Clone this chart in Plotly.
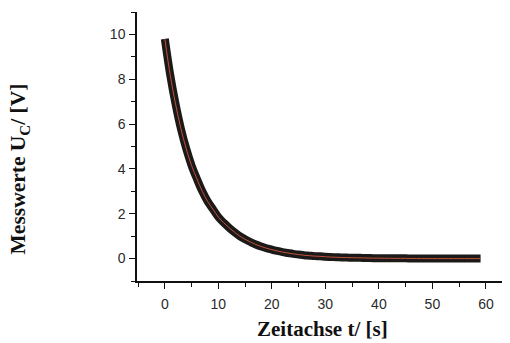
import plotly.graph_objects as go

t_s = list(range(0, 60))
u_c = [9.8, 8.2, 6.9, 5.8, 4.9, 4.15, 3.55, 3.0, 2.55, 2.2,
       1.85, 1.6, 1.38, 1.18, 1.0, 0.86, 0.74, 0.63, 0.54, 0.46,
       0.4, 0.34, 0.29, 0.25, 0.21, 0.18, 0.15, 0.13, 0.11, 0.1,
       0.08, 0.07, 0.06, 0.05, 0.045, 0.04, 0.035, 0.03, 0.025, 0.02,
       0.02, 0.015, 0.015, 0.01, 0.01, 0.01, 0.005, 0.005, 0.0, 0.0,
       0.0, 0.0, 0.0, 0.0, 0.0, 0.0, 0.0, 0.0, 0.0, 0.0]

x_ticks = [0, 10, 20, 30, 40, 50, 60]
y_ticks = [0, 2, 4, 6, 8, 10]

fig = go.Figure()
fig.add_trace(go.Scatter(x=t_s, y=u_c, mode="lines",
                         line=dict(color="#1c1a18", width=8, shape="spline", smoothing=1),
                         showlegend=False))
fig.add_trace(go.Scatter(x=t_s, y=u_c, mode="lines",
                         line=dict(color="#c0503c", width=1, shape="spline", smoothing=1),
                         showlegend=False))

axis_common = dict(showline=True, linecolor="#111111", linewidth=1.5,
                   ticks="outside", ticklen=6, tickwidth=1.2, tickcolor="#111111",
                   showgrid=False, zeroline=False,
                   tickfont=dict(family="Liberation Sans, Arial", size=14, color="#2a2a2a"))

# page is drawn with an 8px body margin, so margins compensate
fig.update_layout(
    width=510, height=343,
    margin=dict(l=129, r=8, t=4, b=70),
    paper_bgcolor="white", plot_bgcolor="white",
    xaxis=dict(range=[-5.2, 64.5], tickvals=x_ticks, ticklabelstandoff=3,
               minor=dict(ticks="outside", ticklen=4, dtick=5, tick0=5, tickcolor="#111111"),
               **axis_common),
    yaxis=dict(range=[-1, 11], tickvals=y_ticks, ticklabelstandoff=1,
               minor=dict(ticks="outside", ticklen=4, dtick=2, tick0=-1, tickcolor="#111111"),
               **axis_common),
    annotations=[
        dict(text="<b>Zeitachse t/ [s]</b>", xref="paper", yref="paper",
             x=0.496, y=-0.178, xanchor="center", yanchor="middle",
             showarrow=False, font=dict(family="Liberation Serif, Times New Roman", size=21, color="#111111")),
        dict(text="<b>Messwerte U<sub>C</sub>/ [V]</b>", xref="paper", yref="paper",
             x=-0.314, y=0.418, xanchor="center", yanchor="middle",
             textangle=-90, showarrow=False,
             font=dict(family="Liberation Serif, Times New Roman", size=21.5, color="#111111")),
    ],
)

fig.write_html("out.html")
